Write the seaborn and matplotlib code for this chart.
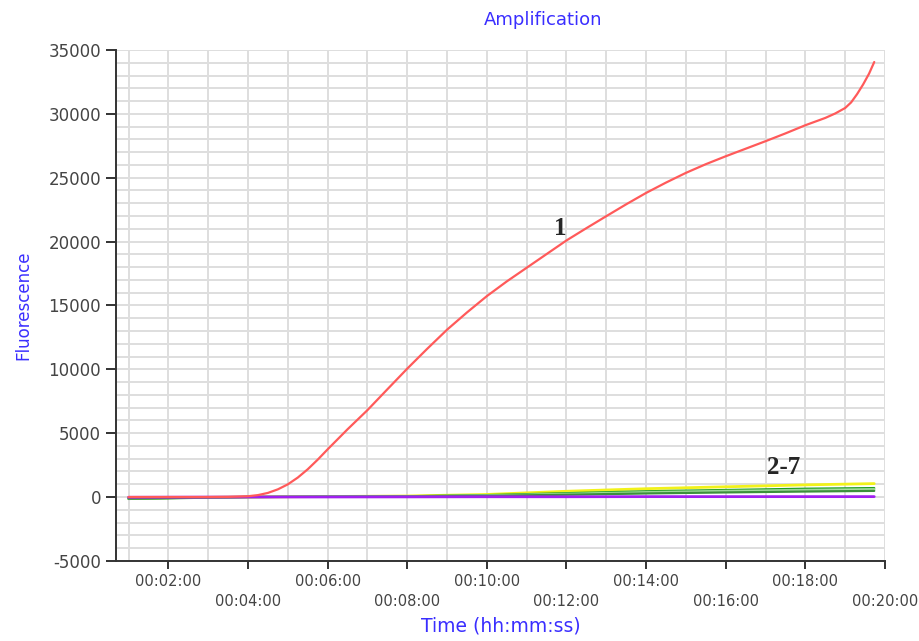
import numpy as np
import pandas as pd
import matplotlib
matplotlib.use("Agg")
import matplotlib.pyplot as plt
from matplotlib.ticker import MultipleLocator
import seaborn as sns

# time in minutes, fluorescence
time_1 = [1, 2, 3, 3.5, 4, 4.25, 4.5, 4.75, 5, 5.25, 5.5, 5.75, 6, 6.5, 7,
          7.5, 8, 8.5, 9, 9.5, 10, 10.5, 11, 11.5, 12, 12.5, 13, 13.5, 14,
          14.5, 15, 15.5, 16, 16.5, 17, 17.5, 18, 18.5, 18.75, 19, 19.15,
          19.3, 19.45, 19.6, 19.73]
fluo_1 = [0, 0, 0, 10, 60, 150, 320, 600, 990, 1520, 2170, 2920, 3730, 5300,
          6800, 8430, 10050, 11600, 13100, 14450, 15730, 16880, 17950, 19020,
          20090, 21050, 21990, 22920, 23810, 24620, 25380, 26060, 26680,
          27270, 27860, 28470, 29110, 29680, 30030, 30460, 30900, 31550,
          32300, 33150, 34060]

time_low = [1, 4, 8, 10, 12, 14, 16, 18, 19.73]
fluo_yellow = [-80, 0, 80, 200, 450, 650, 800, 950, 1050]
fluo_green = [-150, 0, 60, 150, 300, 450, 550, 650, 700]
fluo_lgreen1 = [-100, 0, 50, 120, 250, 380, 480, 560, 620]
fluo_lgreen2 = [-100, 0, 40, 100, 200, 320, 420, 500, 560]
fluo_dgreen = [-120, 0, 40, 90, 180, 280, 360, 430, 480]
fluo_purple = [-20, 0, 10, 20, 20, 30, 30, 30, 30]

low_series = {
    "2": fluo_yellow,
    "3": fluo_green,
    "4": fluo_lgreen1,
    "5": fluo_lgreen2,
    "6": fluo_dgreen,
    "7": fluo_purple,
}
colors = {
    "1": "#ff5a5a",
    "2": "#f2f21a",
    "3": "#1f9e1f",
    "4": "#8fd68f",
    "5": "#a8e0a0",
    "6": "#3b8f3b",
    "7": "#a020f0",
}

frames = [pd.DataFrame({"time": time_1, "fluo": fluo_1, "well": "1"})]
for name, vals in low_series.items():
    frames.append(pd.DataFrame({"time": time_low, "fluo": vals, "well": name}))
df = pd.concat(frames, ignore_index=True)

sns.set_style("white")
plt.rcParams["axes.unicode_minus"] = False
fig = plt.figure(figsize=(9.19, 6.41), dpi=100)
ax = fig.add_axes([0.126, 0.125, 0.837, 0.797])

# draw low curves first so the red one sits on top
order = ["2", "3", "4", "5", "6", "7", "1"]
for well in order:
    sub = df[df["well"] == well]
    lw = 2.0 if well in ("2", "7") else 1.6
    sns.lineplot(data=sub, x="time", y="fluo", color=colors[well], lw=lw,
                 ax=ax, legend=False)

ax.set_xlim(0.68, 20)
ax.set_ylim(-5000, 35000)

ax.yaxis.set_major_locator(MultipleLocator(5000))
ax.yaxis.set_minor_locator(MultipleLocator(1000))
ax.set_xticks(np.arange(2, 21, 2))
ax.set_xticks(np.arange(1, 21, 1), minor=True)
xlabels = []
for i, m in enumerate(range(2, 21, 2)):
    lab = "00:%02d:00" % m
    xlabels.append(lab if i % 2 == 0 else "\n" + lab)
ax.set_xticklabels(xlabels, linespacing=1.45)

ax.grid(which="both", color="#dedede", lw=1.4)
ax.set_axisbelow(True)
for s in ["top", "right"]:
    ax.spines[s].set_visible(False)
for s in ["left", "bottom"]:
    ax.spines[s].set_color("#333333")
    ax.spines[s].set_linewidth(1.4)

ax.tick_params(axis="y", which="major", direction="out", length=7, width=1.4,
               color="#333333", labelsize=12, labelcolor="#444444", left=True)
ax.tick_params(axis="x", which="major", direction="out", length=6, width=1.4,
               color="#333333", labelsize=10.5, labelcolor="#444444", bottom=True)
ax.tick_params(which="minor", length=0)

blue = "#3a2eff"
ax.set_title("Amplification", color=blue, fontsize=13, pad=18, x=0.555)
ax.set_ylabel("Fluorescence", color=blue, fontsize=12, labelpad=12)
ax.set_xlabel("Time (hh:mm:ss)", color=blue, fontsize=13.5, labelpad=5)

ax.text(11.85, 21000, "1", family="Liberation Serif", fontweight="bold",
        fontsize=18, ha="center", va="center")
ax.text(17.45, 2350, "2-7", family="Liberation Serif", fontweight="bold",
        fontsize=18, ha="center", va="center")

fig.savefig("out.png", dpi=100)
